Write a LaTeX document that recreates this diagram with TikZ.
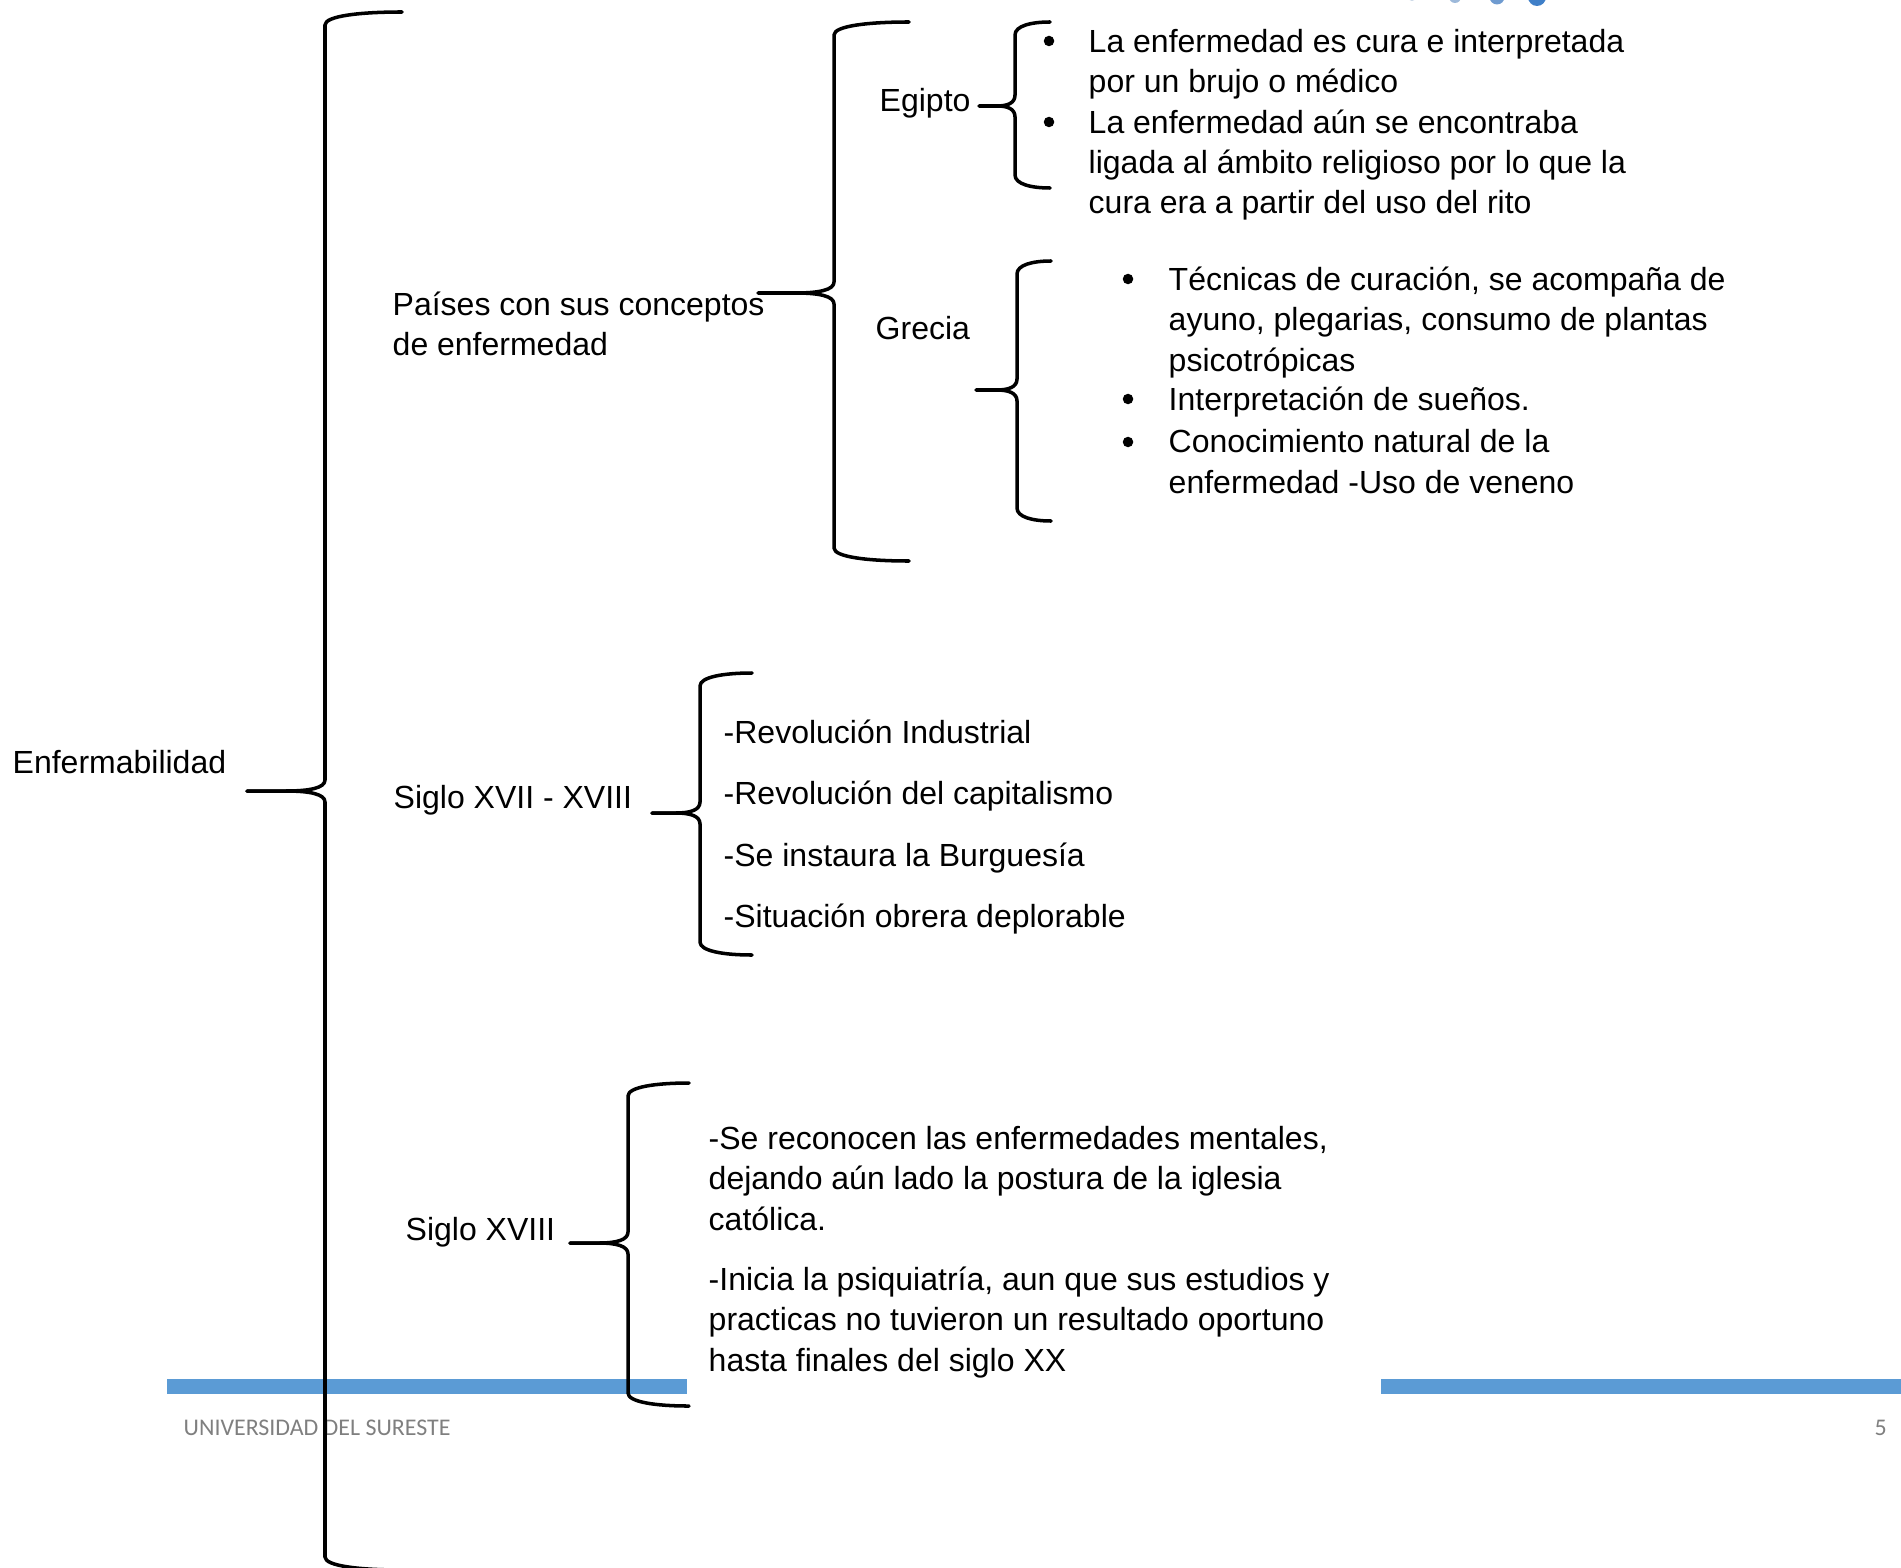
\documentclass[tikz,border=0pt]{standalone}
\usepackage{fontspec}
\setmainfont{Liberation Sans}
\newfontfamily\footfont{Carlito}
\definecolor{barblue}{HTML}{5B9BD5}
\definecolor{footgray}{HTML}{7F7F7F}
\definecolor{dotA}{HTML}{C9D6E6}
\definecolor{dotB}{HTML}{9DB9DA}
\definecolor{dotC}{HTML}{6F9BD0}
\definecolor{dotD}{HTML}{3F7FC8}
\tikzset{
  bracestyle/.style={line width=1pt, line cap=round, line join=round},
  txt/.style={anchor=base west, inner sep=0pt, align=left,
    font=\fontsize{9.1pt}{11.4pt}\selectfont},
  bul/.style={circle, fill=black, inner sep=0pt, minimum size=0.105cm},
  foot/.style={anchor=base west, inner sep=0pt, text=footgray,
    font=\footfont\fontsize{6.8pt}{8pt}\selectfont},
}
% #1 xline, #2 ytop, #3 ybot, #4 xtoparm, #5 xbotarm, #6 xtip, #7 ytip
\newcommand\drawbrace[7]{%
  \draw[bracestyle] (#4,#2) .. controls (#1+0.45*#4-0.45*#1,#2) and (#1,#2+4) .. (#1,#2+13)
    -- (#1,#7-11) .. controls (#1,#7-3) and (#1-0.2*#1+0.2*#6,#7) .. (#1-0.5*#1+0.5*#6,#7)
    -- (#6,#7);
  \draw[bracestyle] (#6,#7) -- (#1-0.5*#1+0.5*#6,#7)
    .. controls (#1-0.2*#1+0.2*#6,#7) and (#1,#7+3) .. (#1,#7+11)
    -- (#1,#3-13) .. controls (#1,#3-4) and (#1+0.45*#5-0.45*#1,#3) .. (#5,#3);
}
\begin{document}
\begin{tikzpicture}[x=0.01cm, y=-0.01cm]
\useasboundingbox (0,0) rectangle (1901,1567);
\clip (0,0) rectangle (1901,1567);

% header dots (cut by the top edge)
\fill[dotA] (1412,-3) circle (4);
\fill[dotB] (1455,-3) circle (6);
\fill[dotC] (1497,-3) circle (7.5);
\fill[dotD] (1537,-3) circle (9);

% footer bars
\fill[barblue] (167,1379) rectangle (687,1394);
\fill[barblue] (1381,1379) rectangle (1901,1394);
\node[foot] (univ) at (183,1435) {UNIVERSIDAD DEL SURESTE};
\node[foot] (page) at (1874,1435) {5};

% braces
\drawbrace{325}{12}{1570}{402}{402}{247}{791}
\drawbrace{834}{22}{561}{909}{909}{758}{293}
\drawbrace{1015}{22}{188}{1050}{1050}{979}{106}
\drawbrace{1017}{261}{521}{1051}{1051}{976}{390}
\drawbrace{700}{673}{955}{752}{752}{652}{813}
\drawbrace{628}{1083}{1406}{689}{689}{570}{1243}

% labels (base anchor = baseline of the last line)
\node[txt] (enf) at (12,773) {Enfermabilidad};
\node[txt] (paises) at (392,356) {Países con sus conceptos\\de enfermedad};
\node[txt] (egipto) at (879,112) {Egipto};
\node[txt] (grecia) at (875,340) {Grecia};
\node[txt] (s1718) at (393,808) {Siglo XVII - XVIII};
\node[txt] (s18) at (405,1240) {Siglo XVIII};

% Egipto
\node[bul] (eb1) at (1049,41) {};
\node[txt] (e1) at (1088,93) {La enfermedad es cura e interpretada\\por un brujo o médico};
\node[bul] (eb2) at (1049,122) {};
\node[txt] (e2) at (1088,214) {La enfermedad aún se encontraba\\ligada al ámbito religioso por lo que la\\cura era a partir del uso del rito};

% Grecia
\node[bul] (gb1) at (1128,279) {};
\node[txt] (g1) at (1168,371) {Técnicas de curación, se acompaña de\\ayuno, plegarias, consumo de plantas\\psicotrópicas};
\node[bul] (gb2) at (1128,399) {};
\node[txt] (g2) at (1168,410) {Interpretación de sueños.};
\node[bul] (gb3) at (1128,442) {};
\node[txt] (g3) at (1168,493) {Conocimiento natural de la\\enfermedad -Uso de veneno};

% Siglo XVII - XVIII
\node[txt] (r1) at (723,743) {-Revolución Industrial};
\node[txt] (r2) at (723,804) {-Revolución del capitalismo};
\node[txt] (r3) at (723,866) {-Se instaura la Burguesía};
\node[txt] (r4) at (723,927) {-Situación obrera deplorable};

% Siglo XVIII
\node[txt] (m1) at (708,1230) {-Se reconocen las enfermedades mentales,\\dejando aún lado la postura de la iglesia\\católica.};
\node[txt] (m2) at (708,1371) {-Inicia la psiquiatría, aun que sus estudios y\\practicas no tuvieron un resultado oportuno\\hasta finales del siglo XX};
\end{tikzpicture}
\end{document}
